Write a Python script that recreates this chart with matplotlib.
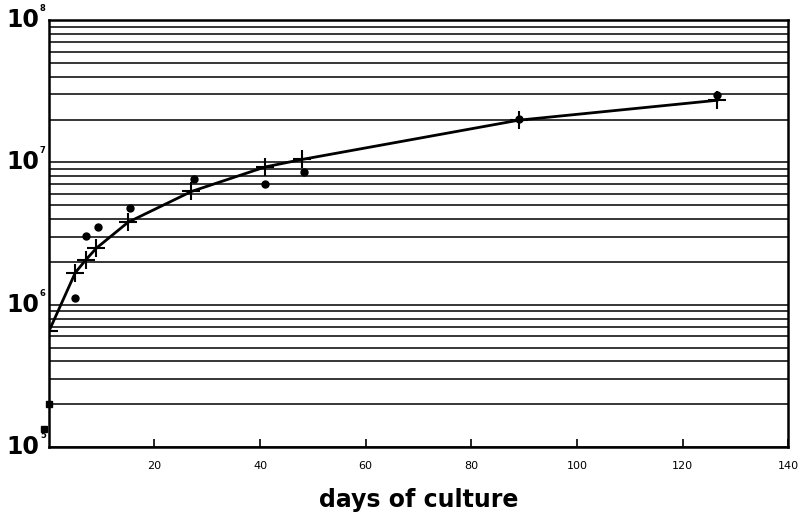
"""
Cell count over days of culture, log scale with minor grid.
"""

import numpy as np
import matplotlib
matplotlib.use("Agg")
import matplotlib.pyplot as plt
from matplotlib.ticker import LogLocator, NullFormatter

# crosses on the fitted curve
cross_days = [0, 5, 7, 9, 15, 27, 41, 48, 89, 126.5]
cross_cells = [6.5e5, 1.68e6, 2.07e6, 2.5e6, 3.8e6, 6.25e6, 9.3e6, 1.05e7, 1.98e7, 2.73e7]

# individual measurements (dots)
dot_days = [5, 7, 9.3, 15.3, 27.4, 41, 48.4, 89, 126.5]
dot_cells = [1.12e6, 3.06e6, 3.54e6, 4.75e6, 7.6e6, 7.0e6, 8.5e6, 2.02e7, 2.97e7]

# starting inoculum
start_days = [-1, 0]
start_cells = [1.35e5, 2.0e5]

x_ticks = [20, 40, 60, 80, 100, 120, 140]
decades = [5, 6, 7, 8]

fig = plt.figure(figsize=(8.01, 5.2), dpi=100)
ax = fig.add_axes([0.061, 0.140, 0.923, 0.8215])

ax.set_yscale("log")
ax.set_xlim(0, 140)
ax.set_ylim(1e5, 1e8)

# horizontal log grid only
ax.yaxis.set_major_locator(LogLocator(base=10, numticks=10))
ax.yaxis.set_minor_locator(LogLocator(base=10, subs=np.arange(2, 10), numticks=20))
ax.yaxis.set_major_formatter(NullFormatter())
ax.yaxis.set_minor_formatter(NullFormatter())
ax.grid(True, which="both", axis="y", color="black", lw=1.1)
ax.tick_params(axis="y", which="both", length=0)

ax.set_xticks(x_ticks)
ax.set_xticklabels([str(t) for t in x_ticks], fontsize=8)
ax.tick_params(axis="x", direction="in", length=6, width=1.2, pad=10)

for s in ax.spines.values():
    s.set_linewidth(1.8)
    s.set_color("black")

ax.plot(cross_days, cross_cells, color="black", lw=2, zorder=3)
ax.plot(cross_days, cross_cells, ls="none", marker="+", ms=13, mew=1.5,
        color="black", zorder=4)
ax.plot(dot_days, dot_cells, ls="none", marker="o", ms=5, color="black", zorder=4)
ax.plot(start_days, start_cells, ls="none", marker="s", ms=5, color="black",
        zorder=5, clip_on=False)

# y labels: big "10" with a small exponent
tr = ax.get_yaxis_transform()
for d in decades:
    ax.text(-0.013, 10.0 ** d, "10", transform=tr, ha="right", va="center",
            fontsize=17, fontweight="bold")
    ax.text(-0.012, 10.0 ** d * 1.12, str(d), transform=tr, ha="left",
            va="bottom", fontsize=6, fontweight="bold")

ax.set_xlabel("days of culture", fontsize=17, fontweight="bold", labelpad=12)

fig.savefig("out.png", dpi=100)
plt.close(fig)
